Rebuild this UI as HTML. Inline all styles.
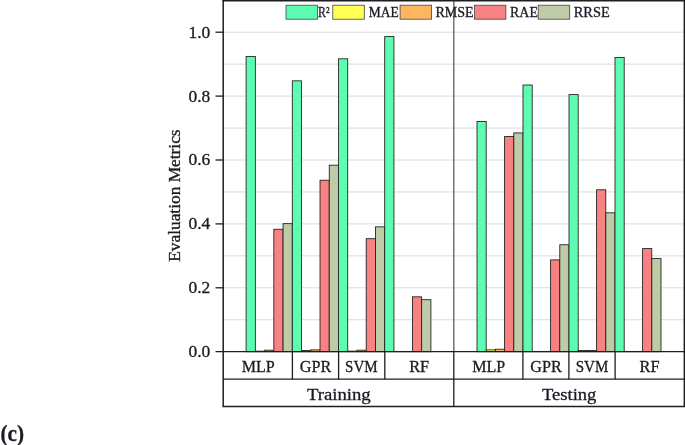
<!DOCTYPE html><html><head><meta charset="utf-8"><title>chart</title><style>html,body{margin:0;padding:0;background:#fff}svg{display:block}text{font-family:"Liberation Serif","DejaVu Serif",serif;fill:#1a1a24;stroke:#1a1a24;stroke-width:0.3px}</style></head><body>
<svg width="685" height="445" viewBox="0 0 685 445">
<rect width="685" height="445" fill="#fff"/>
<line x1="223.2" x2="684.3" y1="319.75" y2="319.75" stroke="#d6d6d6" stroke-width="0.9"/>
<line x1="223.2" x2="684.3" y1="287.80" y2="287.80" stroke="#d6d6d6" stroke-width="0.9"/>
<line x1="223.2" x2="684.3" y1="255.85" y2="255.85" stroke="#d6d6d6" stroke-width="0.9"/>
<line x1="223.2" x2="684.3" y1="223.90" y2="223.90" stroke="#d6d6d6" stroke-width="0.9"/>
<line x1="223.2" x2="684.3" y1="191.95" y2="191.95" stroke="#d6d6d6" stroke-width="0.9"/>
<line x1="223.2" x2="684.3" y1="160.00" y2="160.00" stroke="#d6d6d6" stroke-width="0.9"/>
<line x1="223.2" x2="684.3" y1="128.05" y2="128.05" stroke="#d6d6d6" stroke-width="0.9"/>
<line x1="223.2" x2="684.3" y1="96.10" y2="96.10" stroke="#d6d6d6" stroke-width="0.9"/>
<line x1="223.2" x2="684.3" y1="64.15" y2="64.15" stroke="#d6d6d6" stroke-width="0.9"/>
<line x1="223.2" x2="684.3" y1="32.20" y2="32.20" stroke="#d6d6d6" stroke-width="0.9"/>
<line x1="453.8" x2="453.8" y1="1" y2="351.7" stroke="#6a6a6a" stroke-width="1.4"/>
<rect x="246.10" y="56.56" width="9.24" height="295.14" fill="#5efcb2" stroke="#1c1c1c" stroke-width="0.85"/>
<rect x="255.34" y="351.14" width="9.24" height="0.56" fill="#ffff55" stroke="#1c1c1c" stroke-width="0.85"/>
<rect x="264.58" y="350.18" width="9.24" height="1.52" fill="#fdb562" stroke="#1c1c1c" stroke-width="0.85"/>
<rect x="273.82" y="229.25" width="9.24" height="122.45" fill="#f88181" stroke="#1c1c1c" stroke-width="0.85"/>
<rect x="283.06" y="223.66" width="9.24" height="128.04" fill="#bdcba6" stroke="#1c1c1c" stroke-width="0.85"/>
<rect x="292.30" y="80.84" width="9.24" height="270.86" fill="#5efcb2" stroke="#1c1c1c" stroke-width="0.85"/>
<rect x="301.54" y="350.50" width="9.24" height="1.20" fill="#ffff55" stroke="#1c1c1c" stroke-width="0.85"/>
<rect x="310.78" y="349.86" width="9.24" height="1.84" fill="#fdb562" stroke="#1c1c1c" stroke-width="0.85"/>
<rect x="320.02" y="180.21" width="9.24" height="171.49" fill="#f88181" stroke="#1c1c1c" stroke-width="0.85"/>
<rect x="329.26" y="165.19" width="9.24" height="186.51" fill="#bdcba6" stroke="#1c1c1c" stroke-width="0.85"/>
<rect x="338.50" y="58.80" width="9.24" height="292.90" fill="#5efcb2" stroke="#1c1c1c" stroke-width="0.85"/>
<rect x="347.74" y="351.14" width="9.24" height="0.56" fill="#ffff55" stroke="#1c1c1c" stroke-width="0.85"/>
<rect x="356.98" y="350.18" width="9.24" height="1.52" fill="#fdb562" stroke="#1c1c1c" stroke-width="0.85"/>
<rect x="366.22" y="238.68" width="9.24" height="113.02" fill="#f88181" stroke="#1c1c1c" stroke-width="0.85"/>
<rect x="375.46" y="226.86" width="9.24" height="124.84" fill="#bdcba6" stroke="#1c1c1c" stroke-width="0.85"/>
<rect x="384.70" y="36.59" width="9.24" height="315.11" fill="#5efcb2" stroke="#1c1c1c" stroke-width="0.85"/>
<rect x="393.94" y="351.40" width="9.24" height="0.30" fill="#ffff55" stroke="#1c1c1c" stroke-width="0.85"/>
<rect x="403.18" y="351.40" width="9.24" height="0.30" fill="#fdb562" stroke="#1c1c1c" stroke-width="0.85"/>
<rect x="412.42" y="296.83" width="9.24" height="54.87" fill="#f88181" stroke="#1c1c1c" stroke-width="0.85"/>
<rect x="421.66" y="299.70" width="9.24" height="52.00" fill="#bdcba6" stroke="#1c1c1c" stroke-width="0.85"/>
<rect x="477.00" y="121.42" width="9.20" height="230.28" fill="#5efcb2" stroke="#1c1c1c" stroke-width="0.85"/>
<rect x="486.20" y="349.86" width="9.20" height="1.84" fill="#ffff55" stroke="#1c1c1c" stroke-width="0.85"/>
<rect x="495.40" y="349.22" width="9.20" height="2.48" fill="#fdb562" stroke="#1c1c1c" stroke-width="0.85"/>
<rect x="504.60" y="136.44" width="9.20" height="215.26" fill="#f88181" stroke="#1c1c1c" stroke-width="0.85"/>
<rect x="513.80" y="132.92" width="9.20" height="218.78" fill="#bdcba6" stroke="#1c1c1c" stroke-width="0.85"/>
<rect x="523.00" y="85.00" width="9.20" height="266.70" fill="#5efcb2" stroke="#1c1c1c" stroke-width="0.85"/>
<rect x="532.20" y="351.40" width="9.20" height="0.30" fill="#ffff55" stroke="#1c1c1c" stroke-width="0.85"/>
<rect x="541.40" y="351.40" width="9.20" height="0.30" fill="#fdb562" stroke="#1c1c1c" stroke-width="0.85"/>
<rect x="550.60" y="259.89" width="9.20" height="91.81" fill="#f88181" stroke="#1c1c1c" stroke-width="0.85"/>
<rect x="559.80" y="244.75" width="9.20" height="106.95" fill="#bdcba6" stroke="#1c1c1c" stroke-width="0.85"/>
<rect x="569.00" y="94.58" width="9.20" height="257.12" fill="#5efcb2" stroke="#1c1c1c" stroke-width="0.85"/>
<rect x="578.20" y="350.50" width="9.20" height="1.20" fill="#ffff55" stroke="#1c1c1c" stroke-width="0.85"/>
<rect x="587.40" y="350.50" width="9.20" height="1.20" fill="#fdb562" stroke="#1c1c1c" stroke-width="0.85"/>
<rect x="596.60" y="189.79" width="9.20" height="161.91" fill="#f88181" stroke="#1c1c1c" stroke-width="0.85"/>
<rect x="605.80" y="212.80" width="9.20" height="138.90" fill="#bdcba6" stroke="#1c1c1c" stroke-width="0.85"/>
<rect x="615.00" y="57.52" width="9.20" height="294.18" fill="#5efcb2" stroke="#1c1c1c" stroke-width="0.85"/>
<rect x="624.20" y="351.40" width="9.20" height="0.30" fill="#ffff55" stroke="#1c1c1c" stroke-width="0.85"/>
<rect x="633.40" y="351.40" width="9.20" height="0.30" fill="#fdb562" stroke="#1c1c1c" stroke-width="0.85"/>
<rect x="642.60" y="248.58" width="9.20" height="103.12" fill="#f88181" stroke="#1c1c1c" stroke-width="0.85"/>
<rect x="651.80" y="258.58" width="9.20" height="93.12" fill="#bdcba6" stroke="#1c1c1c" stroke-width="0.85"/>
<line x1="215.5" x2="684.3" y1="351.7" y2="351.7" stroke="#1e1e1e" stroke-width="1.2"/>
<line x1="223.2" x2="223.2" y1="0" y2="406.5" stroke="#1e1e1e" stroke-width="1.5"/>
<line x1="222.5" x2="685.0" y1="0.7" y2="0.7" stroke="#1e1e1e" stroke-width="1.5"/>
<line x1="684.3" x2="684.3" y1="0" y2="406.5" stroke="#1e1e1e" stroke-width="1.4"/>
<line x1="223.2" x2="684.3" y1="379.2" y2="379.2" stroke="#1e1e1e" stroke-width="1.3"/>
<line x1="222.5" x2="685.0" y1="406.5" y2="406.5" stroke="#1e1e1e" stroke-width="1.3"/>
<line x1="453.8" x2="453.8" y1="351.7" y2="406.5" stroke="#1e1e1e" stroke-width="1.3"/>
<line x1="292.4" x2="292.4" y1="351.7" y2="379.2" stroke="#1e1e1e" stroke-width="1.3"/>
<line x1="338.6" x2="338.6" y1="351.7" y2="379.2" stroke="#1e1e1e" stroke-width="1.3"/>
<line x1="384.8" x2="384.8" y1="351.7" y2="379.2" stroke="#1e1e1e" stroke-width="1.3"/>
<line x1="522.9" x2="522.9" y1="351.7" y2="379.2" stroke="#1e1e1e" stroke-width="1.3"/>
<line x1="568.9" x2="568.9" y1="351.7" y2="379.2" stroke="#1e1e1e" stroke-width="1.3"/>
<line x1="615.1" x2="615.1" y1="351.7" y2="379.2" stroke="#1e1e1e" stroke-width="1.3"/>
<text x="210.3" y="357.10" font-size="16" text-anchor="end" textLength="21.8" lengthAdjust="spacingAndGlyphs">0.0</text>
<line x1="215.5" x2="223.2" y1="287.80" y2="287.80" stroke="#1e1e1e" stroke-width="1.3"/>
<text x="210.3" y="293.20" font-size="16" text-anchor="end" textLength="21.8" lengthAdjust="spacingAndGlyphs">0.2</text>
<line x1="215.5" x2="223.2" y1="223.90" y2="223.90" stroke="#1e1e1e" stroke-width="1.3"/>
<text x="210.3" y="229.30" font-size="16" text-anchor="end" textLength="21.8" lengthAdjust="spacingAndGlyphs">0.4</text>
<line x1="215.5" x2="223.2" y1="160.00" y2="160.00" stroke="#1e1e1e" stroke-width="1.3"/>
<text x="210.3" y="165.40" font-size="16" text-anchor="end" textLength="21.8" lengthAdjust="spacingAndGlyphs">0.6</text>
<line x1="215.5" x2="223.2" y1="96.10" y2="96.10" stroke="#1e1e1e" stroke-width="1.3"/>
<text x="210.3" y="101.50" font-size="16" text-anchor="end" textLength="21.8" lengthAdjust="spacingAndGlyphs">0.8</text>
<line x1="215.5" x2="223.2" y1="32.20" y2="32.20" stroke="#1e1e1e" stroke-width="1.3"/>
<text x="210.3" y="37.60" font-size="16" text-anchor="end" textLength="21.8" lengthAdjust="spacingAndGlyphs">1.0</text>
<text transform="translate(179.6,195.6) rotate(-90)" font-size="16" text-anchor="middle" textLength="132.4" lengthAdjust="spacingAndGlyphs">Evaluation Metrics</text>
<text x="258.2" y="372.3" font-size="16.5" text-anchor="middle" textLength="33" lengthAdjust="spacingAndGlyphs">MLP</text>
<text x="315.6" y="372.3" font-size="16.5" text-anchor="middle" textLength="31.5" lengthAdjust="spacingAndGlyphs">GPR</text>
<text x="361.4" y="372.3" font-size="16.5" text-anchor="middle" textLength="32.6" lengthAdjust="spacingAndGlyphs">SVM</text>
<text x="419.2" y="372.3" font-size="16.5" text-anchor="middle" textLength="20" lengthAdjust="spacingAndGlyphs">RF</text>
<text x="488.8" y="372.3" font-size="16.5" text-anchor="middle" textLength="33" lengthAdjust="spacingAndGlyphs">MLP</text>
<text x="546.0" y="372.3" font-size="16.5" text-anchor="middle" textLength="31.5" lengthAdjust="spacingAndGlyphs">GPR</text>
<text x="592.0" y="372.3" font-size="16.5" text-anchor="middle" textLength="32.6" lengthAdjust="spacingAndGlyphs">SVM</text>
<text x="649.5" y="372.3" font-size="16.5" text-anchor="middle" textLength="20" lengthAdjust="spacingAndGlyphs">RF</text>
<text x="338.8" y="400.3" font-size="16.5" text-anchor="middle" textLength="63.8" lengthAdjust="spacingAndGlyphs">Training</text>
<text x="569.2" y="400.3" font-size="16.5" text-anchor="middle" textLength="54.4" lengthAdjust="spacingAndGlyphs">Testing</text>
<rect x="286" y="5.2" width="31.5" height="14" fill="#5efcb2" stroke="#444" stroke-width="0.8"/>
<text x="318" y="17.3" font-size="14.2" stroke-width="0.45" textLength="11.5" lengthAdjust="spacingAndGlyphs">R²</text>
<rect x="332.8" y="5.2" width="31.5" height="14" fill="#ffff55" stroke="#444" stroke-width="0.8"/>
<text x="368.8" y="17.3" font-size="14.2" stroke-width="0.45" textLength="30" lengthAdjust="spacingAndGlyphs">MAE</text>
<rect x="400.1" y="5.2" width="31.5" height="14" fill="#fdb562" stroke="#444" stroke-width="0.8"/>
<text x="435.4" y="17.3" font-size="14.2" stroke-width="0.45" textLength="38.2" lengthAdjust="spacingAndGlyphs">RMSE</text>
<rect x="474.4" y="5.2" width="31.5" height="14" fill="#f88181" stroke="#444" stroke-width="0.8"/>
<text x="510.1" y="17.3" font-size="14.2" stroke-width="0.45" textLength="27.8" lengthAdjust="spacingAndGlyphs">RAE</text>
<rect x="538.2" y="5.2" width="31.5" height="14" fill="#bdcba6" stroke="#444" stroke-width="0.8"/>
<text x="573.7" y="17.3" font-size="14.2" stroke-width="0.45" textLength="36" lengthAdjust="spacingAndGlyphs">RRSE</text>
<text x="0.5" y="441" font-size="24" font-weight="bold" fill="#000" stroke="#000" stroke-width="0.7" textLength="23.5" lengthAdjust="spacingAndGlyphs">(c)</text>
</svg></body></html>
